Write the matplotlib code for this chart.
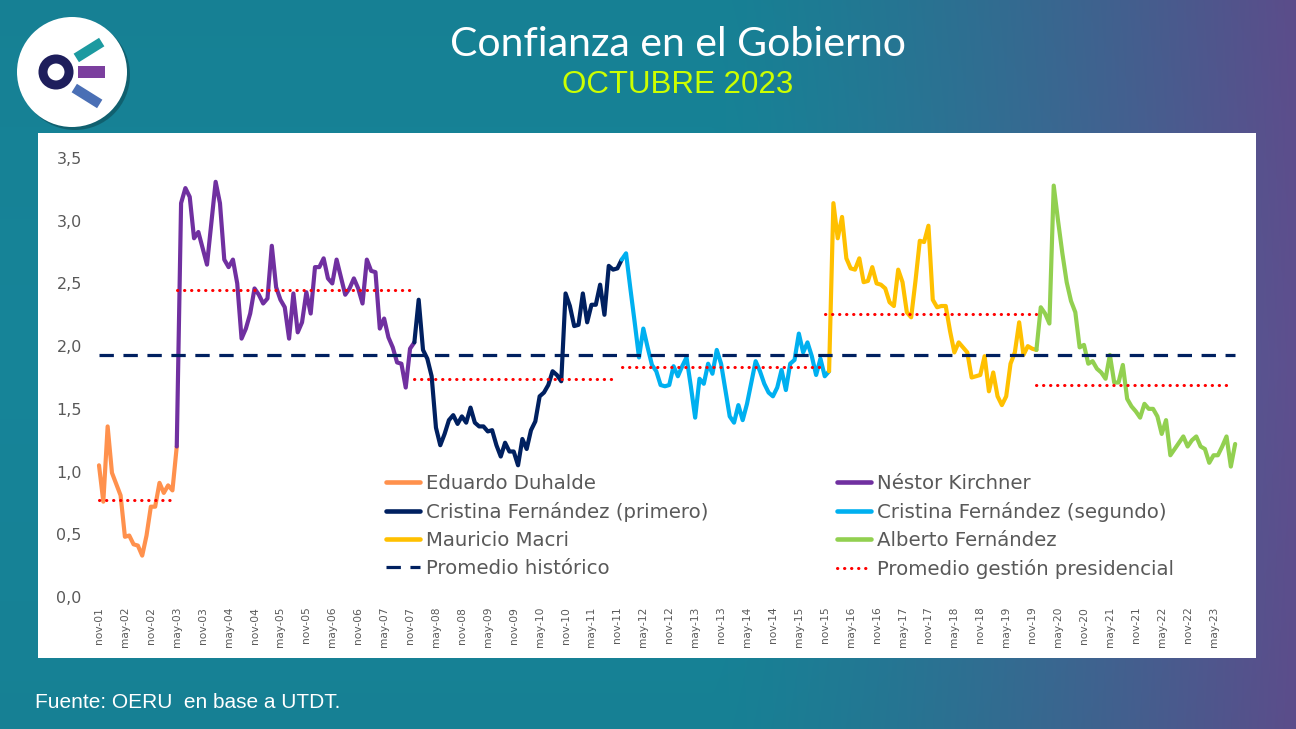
import numpy as np
import matplotlib
matplotlib.use("Agg")
import matplotlib.pyplot as plt
from matplotlib.patches import Rectangle, Circle, Polygon

# ---------------- data (monthly, index 0 = nov-01) ----------------
duhalde = [1.05, 0.76, 1.36, 0.99, 0.90, 0.81, 0.48, 0.49, 0.42, 0.41, 0.33, 0.49,
           0.72, 0.72, 0.91, 0.83, 0.89, 0.85, 1.20]
kirchner = [1.20, 3.14, 3.26, 3.19, 2.86, 2.91, 2.78, 2.65, 2.98, 3.31, 3.14, 2.69,
            2.63, 2.69, 2.50, 2.06, 2.14, 2.26, 2.46, 2.41, 2.34, 2.38, 2.80, 2.47,
            2.37, 2.31, 2.06, 2.42, 2.11, 2.19, 2.43, 2.26, 2.63, 2.63, 2.70, 2.54,
            2.50, 2.69, 2.55, 2.41, 2.46, 2.54, 2.46, 2.34, 2.69, 2.60, 2.59, 2.14,
            2.22, 2.07, 1.99, 1.87, 1.86, 1.67, 1.98, 2.03]
cfk1 = [2.03, 2.37, 1.97, 1.90, 1.76, 1.35, 1.21, 1.30, 1.41, 1.45, 1.38, 1.44,
        1.39, 1.51, 1.39, 1.36, 1.36, 1.32, 1.33, 1.21, 1.12, 1.23, 1.16, 1.16,
        1.05, 1.26, 1.18, 1.33, 1.40, 1.60, 1.63, 1.69, 1.80, 1.77, 1.72, 2.42,
        2.32, 2.16, 2.17, 2.42, 2.19, 2.33, 2.33, 2.49, 2.25, 2.64, 2.61, 2.62, 2.69]
cfk2 = [2.69, 2.74, 2.46, 2.19, 1.91, 2.14, 1.99, 1.85, 1.80, 1.69, 1.68, 1.69,
        1.84, 1.76, 1.84, 1.91, 1.68, 1.43, 1.74, 1.70, 1.86, 1.78, 1.97, 1.86,
        1.65, 1.44, 1.39, 1.53, 1.41, 1.54, 1.71, 1.88, 1.80, 1.70, 1.63, 1.60,
        1.67, 1.81, 1.65, 1.86, 1.89, 2.10, 1.95, 2.03, 1.92, 1.77, 1.90, 1.76, 1.80]
macri = [1.80, 3.14, 2.86, 3.03, 2.70, 2.62, 2.61, 2.70, 2.51, 2.52, 2.63, 2.50,
         2.49, 2.46, 2.35, 2.32, 2.61, 2.51, 2.27, 2.23, 2.52, 2.84, 2.83, 2.96,
         2.37, 2.31, 2.32, 2.32, 2.12, 1.95, 2.03, 1.99, 1.95, 1.75, 1.76, 1.77,
         1.92, 1.64, 1.79, 1.60, 1.53, 1.60, 1.86, 1.95, 2.19, 1.93, 2.00, 1.98, 1.97]
alberto = [1.97, 2.31, 2.26, 2.18, 3.28, 3.00, 2.74, 2.51, 2.36, 2.27, 1.99, 2.01,
           1.86, 1.88, 1.82, 1.79, 1.74, 1.93, 1.71, 1.71, 1.85, 1.58, 1.52, 1.48,
           1.43, 1.54, 1.50, 1.50, 1.44, 1.30, 1.41, 1.13, 1.18, 1.23, 1.28, 1.20,
           1.25, 1.28, 1.20, 1.18, 1.07, 1.13, 1.13, 1.20, 1.28, 1.04, 1.22]

series_names = ["Eduardo Duhalde", "Néstor Kirchner", "Cristina Fernández (primero)",
                "Cristina Fernández (segundo)", "Mauricio Macri", "Alberto Fernández"]
series_values = [duhalde, kirchner, cfk1, cfk2, macri, alberto]
series_start = [0, 18, 73, 121, 169, 217]
series_colors = ["#FF914D", "#7030A0", "#002060", "#00B0F0", "#FFC000", "#92D050"]

gestion_avg = [0.77, 2.45, 1.74, 1.83, 2.26, 1.69]
gestion_span = [(0, 17), (18, 73), (73, 120), (121, 167), (168, 217), (217, 262)]
historic_avg = 1.93
n_months = 264

tick_labels = ["nov-01", "may-02", "nov-02", "may-03", "nov-03", "may-04", "nov-04",
               "may-05", "nov-05", "may-06", "nov-06", "may-07", "nov-07", "may-08",
               "nov-08", "may-09", "nov-09", "may-10", "nov-10", "may-11", "nov-11",
               "may-12", "nov-12", "may-13", "nov-13", "may-14", "nov-14", "may-15",
               "nov-15", "may-16", "nov-16", "may-17", "nov-17", "may-18", "nov-18",
               "may-19", "nov-19", "may-20", "nov-20", "may-21", "nov-21", "may-22",
               "nov-22", "may-23"]
y_ticks = [0.0, 0.5, 1.0, 1.5, 2.0, 2.5, 3.0, 3.5]

# ---------------- figure ----------------
W, H = 1296, 729
fig = plt.figure(figsize=(W / 100, H / 100), dpi=100)

bg = fig.add_axes([0, 0, 1, 1])
bg.set_xlim(0, W)
bg.set_ylim(H, 0)
bg.axis("off")

xs = np.linspace(0, 1, 600)
teal = np.array([0.09, 0.52, 0.60])
purple = np.array([0.37, 0.31, 0.56])
t = np.clip((xs - 0.55) / 0.45, 0, 1) ** 1.3
grad = teal[None, :] * (1 - t[:, None]) + purple[None, :] * t[:, None]
ys = np.linspace(0, 1, 200)
shade = 1.0 - 0.06 * np.abs(ys - 0.5)[:, None, None]
img = np.clip(grad[None, :, :] * shade, 0, 1)
bg.imshow(img, extent=[0, W, H, 0], aspect="auto", zorder=0)

# white panel
bg.add_patch(Rectangle((38, 133), 1218, 525, facecolor="white", edgecolor="none", zorder=1))

# logo
bg.add_patch(Circle((75, 75), 55, facecolor="black", alpha=0.25, edgecolor="none", zorder=2))
bg.add_patch(Circle((72, 72), 55, facecolor="white", edgecolor="none", zorder=3))


def bar(cx, cy, length, thick, ang_deg, color):
    a = np.deg2rad(ang_deg)
    ux, uy = np.cos(a), np.sin(a)
    vx, vy = -uy, ux
    pts = [(cx - ux * length / 2 - vx * thick / 2, cy - uy * length / 2 - vy * thick / 2),
           (cx + ux * length / 2 - vx * thick / 2, cy + uy * length / 2 - vy * thick / 2),
           (cx + ux * length / 2 + vx * thick / 2, cy + uy * length / 2 + vy * thick / 2),
           (cx - ux * length / 2 + vx * thick / 2, cy - uy * length / 2 + vy * thick / 2)]
    bg.add_patch(Polygon(pts, closed=True, facecolor=color, edgecolor="none", zorder=4))


bar(89, 50, 30, 10, -32, "#1C9AA0")
bar(91, 72, 27, 12, 0, "#7B3F9E")
bar(87, 96, 30, 10, 32, "#4A6FB5")
bg.add_patch(Circle((56, 72), 13, facecolor="none", edgecolor="#1E1E5C", lw=6.5, zorder=5))

fig.text(678 / W, 1 - 44 / H, "Confianza en el Gobierno", family="Lato", fontsize=29.5,
         color="white", ha="center", va="center")
fig.text(678 / W, 1 - 85 / H, "OCTUBRE 2023", family="Liberation Sans", fontsize=22.5,
         color="#CCFF00", ha="center", va="center")
fig.text(35 / W, 1 - 703 / H, "Fuente: OERU  en base a UTDT.", family="Liberation Sans",
         fontsize=15, color="white", ha="left", va="center")

# ---------------- main axes ----------------
px0, pxm = 99.0, 4.32          # pixel of month 0, pixels per month
ax_left, ax_right = 95.0, 1245.0
ax_top, ax_bot = 158.0, 597.0
ax = fig.add_axes([ax_left / W, 1 - ax_bot / H, (ax_right - ax_left) / W, (ax_bot - ax_top) / H])
ax.set_facecolor("none")
ax.set_xlim((ax_left - px0) / pxm, (ax_right - px0) / pxm)
ax.set_ylim(0, 3.5)
for s in ax.spines.values():
    s.set_visible(False)

lines = []
for name, vals, st, col in zip(series_names, series_values, series_start, series_colors):
    x = np.arange(st, st + len(vals))
    ln, = ax.plot(x, vals, color=col, lw=3.0, solid_joinstyle="round",
                  solid_capstyle="round", label=name, zorder=3)
    lines.append(ln)

hist_ln, = ax.plot([0, n_months - 1], [historic_avg, historic_avg], color="#002060",
                   lw=2.3, ls=(0, (4.5, 3.0)), zorder=4, label="Promedio histórico")
red_lines = []
for avg, (a, b) in zip(gestion_avg, gestion_span):
    rl, = ax.plot([a, b], [avg, avg], color="#FF0000", lw=2.2, ls=(0, (0.1, 2.2)),
                  dash_capstyle="round", zorder=4, label="Promedio gestión presidencial")
    red_lines.append(rl)

ax.set_yticks(y_ticks)
ax.set_yticklabels([f"{v:.1f}".replace(".", ",") for v in y_ticks])
ax.set_xticks(np.arange(0, 6 * len(tick_labels), 6))
ax.set_xticklabels(tick_labels, rotation=90)
ax.tick_params(axis="y", length=0, pad=9.5, labelsize=11.5, labelcolor="#595959")
ax.tick_params(axis="x", length=0, pad=7, labelsize=7.7, labelcolor="#595959")

leg_kw = dict(frameon=False, fontsize=14.2, labelcolor="#595959", handlelength=1.7,
              handletextpad=0.35, labelspacing=0.46, borderpad=0, borderaxespad=0,
              loc="upper left", bbox_transform=fig.transFigure)
leg1 = fig.legend(handles=[lines[0], lines[2], lines[4], hist_ln],
                  labels=[series_names[0], series_names[2], series_names[4], "Promedio histórico"],
                  bbox_to_anchor=(386 / W, 1 - 474 / H), **leg_kw)
leg2 = fig.legend(handles=[lines[1], lines[3], lines[5], red_lines[0]],
                  labels=[series_names[1], series_names[3], series_names[5],
                          "Promedio gestión presidencial"],
                  bbox_to_anchor=(837 / W, 1 - 474 / H), **leg_kw)
for lg in (leg1, leg2):
    for h in lg.legend_handles[:3]:
        h.set_linewidth(3.3)

fig.savefig("out.png", dpi=100)
